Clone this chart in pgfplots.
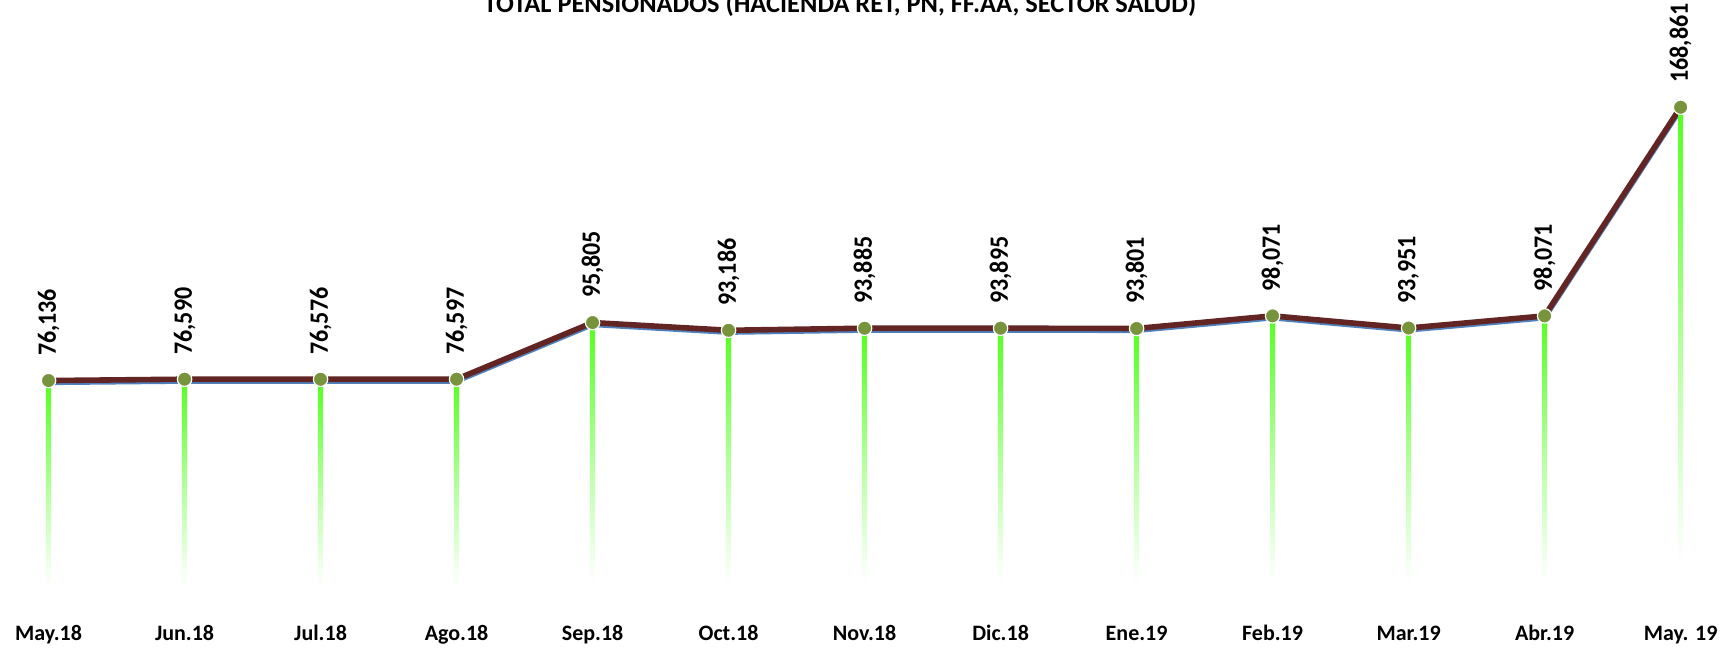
\documentclass[border=0pt]{standalone}
\usepackage{fontspec}
\setmainfont{Carlito}
\usepackage{pgfplots}
\usepackage{pgfplotstable}
\pgfplotsset{compat=1.18}
\usetikzlibrary{calc}

\definecolor{linered}{HTML}{632523}
\definecolor{lineblue}{HTML}{4F81BD}
\definecolor{dotgreen}{HTML}{77933C}

% bright green at the top, fading to white towards the bottom
\pgfdeclareverticalshading{stemfade}{100bp}{rgb(0bp)=(1,1,1); rgb(29bp)=(1,1,1); rgb(50bp)=(0.72,1,0.64); rgb(75bp)=(0.33,1,0.12); rgb(100bp)=(0.33,1,0.12)}

% total pensionados per month
\pgfplotstableread{
x val
0 76136
1 76590
2 76576
3 76597
4 95805
5 93186
6 93885
7 93895
8 93801
9 98071
10 93951
11 98071
12 168861
}\pensionados

\begin{document}
\begin{tikzpicture}
\begin{axis}[
    scale only axis,
    width=867.5pt, height=294.8pt,
    xmin=-0.357, xmax=12.4,
    ymin=0, ymax=200000,
    clip=false,
    axis line style={draw=none},
    tick style={draw=none},
    ytick=\empty,
    xtick={0,...,12},
    xticklabels={May.18,Jun.18,Jul.18,Ago.18,Sep.18,Oct.18,Nov.18,Dic.18,Ene.19,Feb.19,Mar.19,Abr.19,May. 19},
    xticklabel style={font=\bfseries\fontsize{11}{13}\selectfont, anchor=base, yshift=-17.5pt},
    /pgf/number format/assume math mode=true,
    /pgf/number format/fixed,
    /pgf/number format/precision=0,
    /pgf/number format/1000 sep={,},
  ]
% blue edge under the line
\addplot[lineblue, line width=2.6pt, yshift=-1pt, forget plot] table[x=x,y=val]{\pensionados};
% main line
\addplot[linered, line width=2.8pt,
  mark=*, mark size=3.6pt,
  mark options={fill=dotgreen, draw=white, line width=0.6pt},
  point meta=y,
  nodes near coords={\scalebox{1}[1.1]{\pgfmathprintnumber{\pgfplotspointmeta}}},
  nodes near coords style={rotate=90, anchor=west, inner xsep=12pt, text=black,
    font=\bfseries\fontsize{12}{14}\selectfont},
  ] table[x=x,y=val]{\pensionados};
% fading drop lines, one plot per month so each gets its own shading
\pgfplotsinvokeforeach{0,...,12}{
  \addplot[ybar, bar width=2.6pt, bar shift=0pt, draw=none,
    shade, shading=stemfade, restrict x to domain=#1:#1] table[x=x,y=val]{\pensionados};
}
\end{axis}
\node[anchor=base, font=\bfseries\fontsize{13.2}{15}\selectfont]
  at ($(current axis.north west)+(420pt,1.35pt)$)
  {TOTAL PENSIONADOS (HACIENDA RET, PN, FF.AA, SECTOR SALUD)};
\pgfresetboundingbox
\path ($(current axis.south west)+(0,-22.5pt)$) rectangle ($(current axis.north east)+(0,7.7pt)$);
\end{tikzpicture}
\end{document}
